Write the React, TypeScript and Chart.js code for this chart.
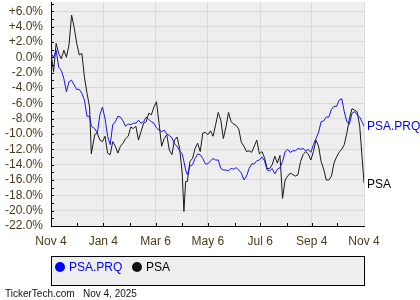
import React, { useEffect, useRef } from 'react';
import { Chart, registerables } from 'chart.js';
Chart.register(...registerables);

// Day offsets since Nov 4, 2024
const days = [0, 3, 6, 9, 12, 15, 18, 21, 24, 27, 30, 33, 36, 39, 42, 45, 47, 51, 54, 57, 60, 63, 66, 69, 72, 75, 78, 81, 84, 87, 90, 93, 96, 99, 102, 105, 108, 111, 114, 117, 120, 123, 126, 129, 132, 135, 138, 141, 144, 147, 150, 153, 155, 157, 159, 162, 165, 168, 171, 174, 177, 180, 183, 186, 189, 192, 195, 198, 201, 204, 207, 210, 213, 216, 219, 222, 225, 228, 231, 234, 237, 240, 243, 246, 249, 252, 255, 258, 261, 264, 267, 270, 273, 276, 279, 282, 285, 288, 291, 294, 297, 300, 303, 306, 309, 312, 315, 318, 321, 324, 327, 330, 333, 336, 339, 342, 345, 348, 351, 354, 357, 360, 363, 365];

const psaPrq = [0.5, 0.0, 0.9, -1.3, -1.7, -2.8, -4.5, -3.2, -3.0, -3.6, -4.2, -4.2, -4.7, -5.6, -7.7, -7.7, -9.0, -9.3, -9.9, -7.5, -6.5, -8.0, -10.3, -11.4, -8.8, -8.4, -7.7, -7.8, -8.3, -9.0, -8.7, -8.8, -8.6, -8.6, -8.2, -8.6, -8.4, -7.8, -8.1, -8.4, -8.6, -9.2, -9.5, -9.7, -9.5, -10.0, -10.2, -10.5, -11.3, -11.6, -12.2, -12.6, -13.6, -14.7, -15.3, -14.2, -14.0, -13.2, -12.6, -12.7, -13.2, -13.9, -13.9, -13.5, -13.2, -13.4, -13.4, -14.5, -14.7, -14.7, -14.8, -14.5, -14.6, -14.4, -14.7, -15.1, -16.0, -15.5, -14.5, -13.9, -13.9, -13.5, -13.4, -13.0, -13.5, -14.7, -14.8, -14.5, -15.2, -14.6, -14.4, -13.6, -12.3, -12.0, -12.4, -12.2, -12.2, -11.9, -12.0, -11.9, -12.2, -12.0, -12.4, -11.4, -10.6, -9.8, -8.4, -8.3, -7.8, -7.8, -6.8, -6.4, -6.4, -5.6, -5.4, -7.1, -8.4, -8.7, -7.3, -7.1, -7.5, -7.8, -8.5, -9.0];

const psa = [0.6, -1.9, 1.8, 0.5, -0.2, 0.9, 0.0, 1.6, 5.5, 3.9, 1.8, 0.3, 0.5, -2.6, -4.7, -6.5, -12.6, -10.1, -9.9, -10.8, -11.0, -10.3, -12.5, -12.7, -11.0, -11.6, -12.5, -11.6, -11.2, -10.6, -10.3, -9.1, -9.3, -9.0, -10.8, -9.7, -8.6, -8.4, -7.3, -7.5, -6.5, -5.8, -8.6, -11.6, -10.6, -10.1, -12.1, -12.7, -10.8, -10.4, -11.9, -15.1, -20.1, -16.2, -16.2, -13.6, -13.2, -11.9, -11.2, -12.3, -9.9, -9.8, -10.1, -9.6, -10.3, -8.8, -7.2, -8.2, -10.6, -9.1, -7.2, -8.4, -8.7, -8.9, -9.4, -11.1, -11.6, -12.3, -12.2, -12.4, -11.6, -10.8, -12.6, -12.3, -13.1, -14.5, -14.5, -14.0, -12.9, -13.8, -12.8, -18.4, -16.0, -15.5, -15.1, -15.3, -15.5, -15.3, -13.6, -12.7, -12.3, -12.6, -13.4, -12.3, -10.8, -11.6, -13.6, -14.6, -16.0, -16.0, -15.5, -13.8, -13.0, -12.4, -12.0, -11.4, -9.9, -8.0, -6.7, -6.9, -7.1, -9.0, -13.4, -16.4];

const xTickDays = [0, 61, 122, 183, 244, 304, 365];
const xTickLabels = ['Nov 4', 'Jan 4', 'Mar 6', 'May 6', 'Jul 6', 'Sep 4', 'Nov 4'];
const monthTickDays = [30, 61, 92, 122, 153, 183, 214, 244, 275, 304, 334];
const yTickValues = [-22, -20, -18, -16, -14, -12, -10, -8, -6, -4, -2, 0, 2, 4, 6];
const seriesNames = ['PSA.PRQ', 'PSA'];
const footerSite = 'TickerTech.com';
const footerDate = 'Nov 4, 2025';

const FONT = '"Liberation Sans", Arial, sans-serif';
const LABEL_COLOR = '#4a3b19';
const BLUE = '#1515f0';
const BLACK = '#1a1a1a';

export default function App() {
  const ref = useRef<HTMLCanvasElement | null>(null);

  useEffect(() => {
    const canvas = ref.current;
    if (!canvas) return;

    const bgPlugin = {
      id: 'bgPlugin',
      beforeDraw(chart: any) {
        const { ctx, chartArea } = chart;
        ctx.save();
        ctx.fillStyle = '#eeeeee';
        ctx.fillRect(chartArea.left, chartArea.top, chartArea.right - chartArea.left, chartArea.bottom - chartArea.top);
        ctx.restore();
      },
      afterDraw(chart: any) {
        const { ctx, chartArea, scales } = chart;
        ctx.save();
        ctx.strokeStyle = '#000';
        ctx.lineWidth = 1;
        for (let v = -22; v <= 7; v++) {
          const y = Math.round(scales.y.getPixelForValue(v)) + 0.5;
          ctx.beginPath();
          ctx.moveTo(chartArea.left, y);
          ctx.lineTo(chartArea.left + 3, y);
          ctx.stroke();
        }
        for (const d of monthTickDays) {
          const x = Math.round(scales.x.getPixelForValue(d)) + 0.5;
          ctx.beginPath();
          ctx.moveTo(x, chartArea.bottom);
          ctx.lineTo(x, chartArea.bottom - 3);
          ctx.stroke();
        }
        ctx.font = '12px ' + FONT;
        ctx.textBaseline = 'middle';
        ctx.textAlign = 'left';
        chart.data.datasets.forEach((ds: any, i: number) => {
          const meta = chart.getDatasetMeta(i);
          const pt = meta.data[meta.data.length - 1];
          ctx.fillStyle = i === 0 ? '#0000ff' : '#000';
          ctx.fillText(seriesNames[i], pt.x + 3, pt.y + (i === 1 ? 2 : 0));
        });
        ctx.restore();
      },
    };

    const chart = new Chart(canvas, {
      type: 'line',
      data: {
        datasets: [
          {
            label: seriesNames[0],
            data: days.map((d, i) => ({ x: d, y: psaPrq[i] })),
            borderColor: BLUE,
            borderWidth: 1,
            pointRadius: 0,
            tension: 0,
          },
          {
            label: seriesNames[1],
            data: days.map((d, i) => ({ x: d, y: psa[i] })),
            borderColor: BLACK,
            borderWidth: 1,
            pointRadius: 0,
            tension: 0,
          },
        ],
      },
      options: {
        responsive: false,
        animation: false,
        layout: { padding: { left: 0, right: 56, top: 2, bottom: 0 } },
        plugins: { legend: { display: false }, tooltip: { enabled: false } },
        scales: {
          x: {
            type: 'linear',
            min: 0,
            max: 365,
            afterBuildTicks: (s: any) => {
              s.ticks = xTickDays.map((v) => ({ value: v }));
            },
            afterFit: (s: any) => {
              s.height = 74;
              s.paddingLeft = 0;
              s.paddingRight = 0;
            },
            ticks: {
              autoSkip: false,
              maxRotation: 0,
              padding: 8,
              color: LABEL_COLOR,
              font: { family: FONT, size: 12 },
              callback: (v: any) => {
                const i = xTickDays.indexOf(Number(v));
                return i >= 0 ? xTickLabels[i] : '';
              },
            },
            grid: { color: '#d9d9d9', drawTicks: false },
            border: { color: '#000', width: 1 },
          },
          y: {
            type: 'linear',
            min: -22,
            max: 7.2,
            afterBuildTicks: (s: any) => {
              s.ticks = yTickValues.map((v) => ({ value: v }));
            },
            afterFit: (s: any) => {
              s.width = 51;
              s.paddingTop = 0;
              s.paddingBottom = 0;
            },
            ticks: {
              autoSkip: false,
              padding: 8,
              color: LABEL_COLOR,
              font: { family: FONT, size: 12 },
              callback: (v: any) => {
                const n = Number(v);
                return (n > 0 ? '+' : '') + n.toFixed(1) + '%';
              },
            },
            grid: { color: '#d9d9d9', drawTicks: false },
            border: { color: '#000', width: 1 },
          },
        },
      },
      plugins: [bgPlugin],
    } as any);

    return () => chart.destroy();
  }, []);

  const textStyle: React.CSSProperties = {
    position: 'absolute',
    fontFamily: FONT,
    fontSize: 12,
    lineHeight: '14px',
    whiteSpace: 'nowrap',
  };

  return (
    <div style={{ position: 'fixed', left: 0, top: 0, width: 420, height: 300, background: '#fff', overflow: 'hidden' }}>
      <canvas ref={ref} width={420} height={300} style={{ position: 'absolute', left: 0, top: 0, width: 420, height: 300 }} />
      <div
        style={{
          position: 'absolute',
          left: 51,
          top: 256,
          width: 314,
          height: 30,
          boxSizing: 'border-box',
          border: '1px solid #000',
          background: '#eeeeee',
        }}
      >
        <span style={{ position: 'absolute', left: 3, top: 5, width: 10, height: 10, borderRadius: '50%', background: '#0000ff' }} />
        <span style={{ ...textStyle, left: 17, top: 3, color: '#0000ff' }}>{seriesNames[0]}</span>
        <span style={{ position: 'absolute', left: 80, top: 5, width: 10, height: 10, borderRadius: '50%', background: '#111' }} />
        <span style={{ ...textStyle, left: 94, top: 3, color: '#000' }}>{seriesNames[1]}</span>
      </div>
      <span style={{ ...textStyle, fontSize: 10, lineHeight: '12px', left: 5, top: 288, color: '#111' }}>{footerSite}</span>
      <span style={{ ...textStyle, fontSize: 10, lineHeight: '12px', left: 83, top: 288, color: '#111' }}>{footerDate}</span>
    </div>
  );
}
